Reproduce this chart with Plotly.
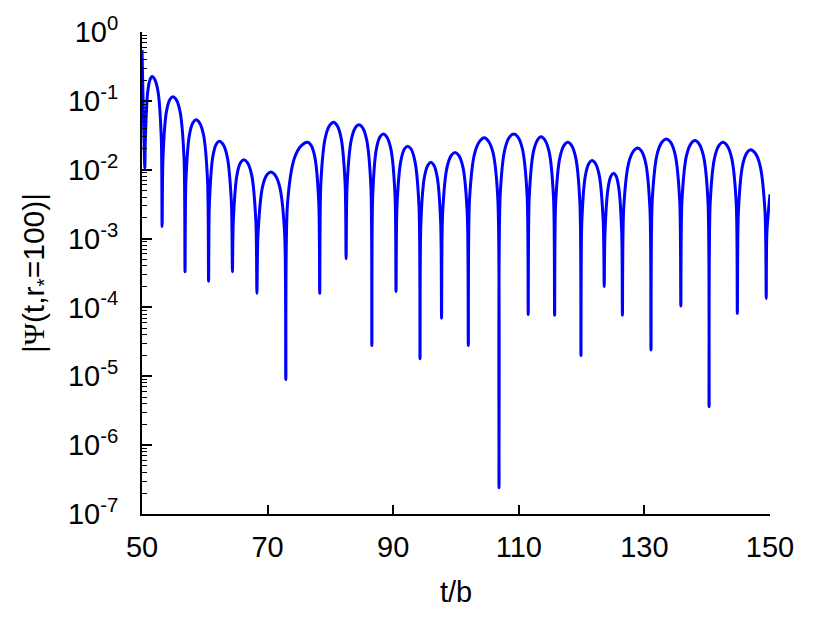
import plotly.graph_objects as go

# Curve |Psi(t, r*=100)|: per lobe -> dip, shoulders, peak
t = [
    50.0, 50.2, 50.45,
    50.54, 50.91, 51.28, 51.6, 52.05, 52.56, 53.07, 53.2,
    53.34, 53.88, 54.42, 54.9, 55.45, 56.07, 56.69, 56.85,
    56.99, 57.55, 58.11, 58.6, 59.16, 59.80, 60.44, 60.6,
    60.74, 61.28, 61.82, 62.3, 62.89, 63.56, 64.23, 64.4,
    64.54, 65.12, 65.70, 66.2, 66.79, 67.46, 68.13, 68.3,
    68.48, 69.18, 69.88, 70.5, 71.17, 71.94, 72.71, 72.9,
    73.18, 74.30, 75.42, 76.4, 76.93, 77.54, 78.15, 78.3,
    78.48, 79.18, 79.88, 80.5, 81.06, 81.70, 82.34, 82.5,
    82.66, 83.32, 83.98, 84.55, 85.12, 85.78, 86.44, 86.6,
    86.74, 87.32, 87.90, 88.4, 88.97, 89.63, 90.29, 90.45,
    90.60, 91.19, 91.78, 92.3, 92.85, 93.48, 94.11, 94.27,
    94.41, 94.96, 95.52, 96.0, 96.48, 97.02, 97.56, 97.7,
    97.87, 98.56, 99.25, 99.85, 100.44, 101.12, 101.79, 101.96,
    102.16, 102.98, 103.79, 104.5, 105.16, 105.91, 106.66, 106.85,
    107.04, 107.79, 108.54, 109.2, 109.84, 110.58, 111.32, 111.5,
    111.66, 112.32, 112.98, 113.55, 114.15, 114.84, 115.53, 115.7,
    115.87, 116.54, 117.21, 117.8, 118.39, 119.06, 119.73, 119.9,
    120.04, 120.60, 121.16, 121.65, 122.20, 122.82, 123.44, 123.6,
    123.72, 124.20, 124.68, 125.1, 125.49, 125.94, 126.39, 126.5,
    126.70, 127.48, 128.26, 128.95, 129.54, 130.21, 130.88, 131.05,
    131.25, 132.03, 132.81, 133.5, 134.14, 134.88, 135.62, 135.8,
    135.98, 136.70, 137.42, 138.05, 138.68, 139.40, 140.12, 140.3,
    140.48, 141.18, 141.88, 142.5, 143.14, 143.88, 144.62, 144.8,
    144.97, 145.64, 146.31, 146.9, 147.60, 148.40, 149.20, 149.4,
    149.5, 150.0,
]
psi = [
    0.55, 0.08, 0.0105,
    0.029, 0.135, 0.203, 0.225, 0.203, 0.135, 0.029, 1.5e-3,
    0.015, 0.069, 0.104, 0.115, 0.104, 0.069, 0.015, 3.3e-4,
    0.0069, 0.032, 0.048, 0.053, 0.048, 0.032, 0.0069, 2.4e-4,
    0.0034, 0.0156, 0.0235, 0.026, 0.0235, 0.0156, 0.0034, 3.3e-4,
    0.0018, 0.0084, 0.0127, 0.014, 0.0127, 0.0084, 0.0018, 1.6e-4,
    0.0012, 0.0056, 0.0084, 0.0093, 0.0084, 0.0056, 0.0012, 9e-6,
    0.0033, 0.015, 0.0226, 0.025, 0.0226, 0.015, 0.0033, 1.6e-4,
    0.0064, 0.029, 0.044, 0.049, 0.044, 0.029, 0.0064, 5.1e-4,
    0.0059, 0.027, 0.041, 0.045, 0.041, 0.027, 0.0059, 2.8e-5,
    0.0043, 0.020, 0.030, 0.033, 0.030, 0.020, 0.0043, 1.7e-4,
    0.0029, 0.013, 0.020, 0.022, 0.020, 0.013, 0.0029, 1.8e-5,
    0.0017, 0.0077, 0.0116, 0.0128, 0.0116, 0.0077, 0.0017, 7e-5,
    0.0023, 0.0107, 0.0161, 0.0178, 0.0161, 0.0107, 0.0023, 2.8e-5,
    0.0038, 0.0174, 0.026, 0.029, 0.026, 0.0174, 0.0038, 2.4e-7,
    0.0043, 0.020, 0.030, 0.033, 0.030, 0.020, 0.0043, 7.9e-5,
    0.0039, 0.018, 0.027, 0.030, 0.027, 0.018, 0.0039, 7.7e-5,
    0.0033, 0.015, 0.0226, 0.025, 0.0226, 0.015, 0.0033, 2.0e-5,
    0.0018, 0.0082, 0.0123, 0.0136, 0.0123, 0.0082, 0.0018, 2.0e-4,
    0.0012, 0.0053, 0.0081, 0.0089, 0.0081, 0.0053, 0.0012, 7.7e-5,
    0.0027, 0.0124, 0.0186, 0.0206, 0.0186, 0.0124, 0.0027, 2.4e-5,
    0.0036, 0.0168, 0.0253, 0.028, 0.0253, 0.0168, 0.0036, 1.05e-4,
    0.0035, 0.016, 0.024, 0.0266, 0.024, 0.016, 0.0035, 3.6e-6,
    0.0033, 0.015, 0.0226, 0.025, 0.0226, 0.015, 0.0033, 8.2e-5,
    0.0025, 0.0117, 0.0176, 0.0195, 0.0176, 0.0117, 0.0025, 1.35e-4,
    0.0012, 0.0044,
]

x_ticks = [50, 70, 90, 110, 130, 150]
y_ticks = [1e0, 1e-1, 1e-2, 1e-3, 1e-4, 1e-5, 1e-6, 1e-7]
y_ticktext = ["10<sup>0</sup>", "10<sup>-1</sup>", "10<sup>-2</sup>", "10<sup>-3</sup>",
              "10<sup>-4</sup>", "10<sup>-5</sup>", "10<sup>-6</sup>", "10<sup>-7</sup>"]

FONT = "Liberation Sans, Arial, sans-serif"
FS = 29

fig = go.Figure()
fig.add_trace(go.Scatter(
    x=t, y=psi, mode="lines",
    line=dict(color="#0000FF", width=3, shape="spline", smoothing=0.8),
    showlegend=False, hoverinfo="skip",
))

# page body adds an 8px offset; margins compensate so the plot area lands at x 142-770, y 32-514
fig.update_layout(
    width=830, height=620,
    margin=dict(l=134, r=68, t=24, b=114),
    paper_bgcolor="white", plot_bgcolor="white",
    font=dict(family=FONT, size=FS, color="black"),
)
fig.update_xaxes(
    range=[50, 150], tickvals=x_ticks, ticktext=[str(v) for v in x_ticks],
    ticks="inside", ticklen=9, tickwidth=1.5, tickcolor="black",
    showline=True, linecolor="black", linewidth=2, mirror=False,
    showgrid=False, zeroline=False, ticklabelstandoff=6, automargin=False,
    tickfont=dict(family=FONT, size=FS),
    title=dict(text="t/b", font=dict(family=FONT, size=FS), standoff=20),
)
fig.update_yaxes(
    type="log", range=[-7, 0], tickvals=y_ticks, ticktext=y_ticktext,
    ticks="inside", ticklen=10, tickwidth=1.5, tickcolor="black",
    minor=dict(ticks="inside", ticklen=5, tickwidth=1, tickcolor="black", dtick="D1", showgrid=False),
    showline=True, linecolor="black", linewidth=2, mirror=False,
    showgrid=False, zeroline=False, ticklabelstandoff=16, automargin=False,
    tickfont=dict(family=FONT, size=FS),
    title=dict(text="|<span style='font-family:Liberation Serif'>Ψ</span>(t,r<sub>*</sub>=100)|",
               font=dict(family=FONT, size=FS + 1), standoff=14),
)

fig.write_html("out.html")
